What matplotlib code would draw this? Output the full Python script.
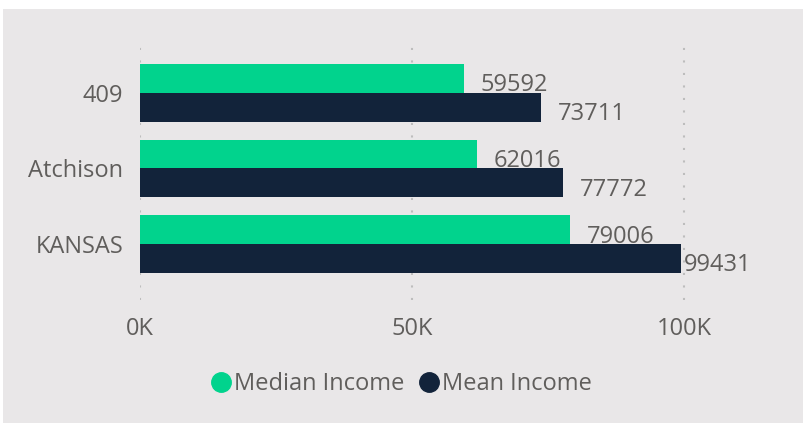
import matplotlib.pyplot as plt
import numpy as np
from matplotlib.patches import Rectangle
from matplotlib.lines import Line2D

plt.rcParams['font.family'] = ['Open Sans', 'DejaVu Sans']

categories = ["409", "Atchison", "KANSAS"]
median_income = [59592, 62016, 79006]
mean_income = [73711, 77772, 99431]
x_ticks = [0, 50000, 100000]
x_tick_labels = ["0K", "50K", "100K"]

green = "#01D38D"
navy = "#12233A"
text_col = "#605E5C"
bg = "#E9E7E8"

fig = plt.figure(figsize=(8.08, 4.30), dpi=100)
fig.patch.set_facecolor("white")
fig.add_artist(Rectangle((3 / 808, 7 / 430), 800 / 808, 414 / 430,
                         transform=fig.transFigure, facecolor=bg, edgecolor="none", zorder=-10))

ax = fig.add_axes([140 / 808, 1 - 300 / 430, 650 / 808, 260 / 430])
ax.set_facecolor("none")

y = np.arange(len(categories))
h = 0.38
ax.barh(y - h / 2, median_income, height=h, color=green, zorder=2)
ax.barh(y + h / 2, mean_income, height=h, color=navy, zorder=2)

ax.set_xlim(0, 119500)
ax.set_ylim(2.74, -0.7)

for i in range(len(categories)):
    for val, yy in ((median_income[i], y[i] - h / 2), (mean_income[i], y[i] + h / 2)):
        off = 12 if val < 95000 else 2
        ax.annotate(str(val), (val, yy), xytext=(off, -5), textcoords="offset points",
                    ha="left", va="center", fontsize=17, color=text_col, zorder=3)

ax.set_xticks(x_ticks)
ax.set_xticklabels(x_tick_labels)
ax.set_yticks(y)
ax.set_yticklabels(categories)
ax.tick_params(axis="both", length=0, labelsize=17, labelcolor=text_col)
ax.tick_params(axis="y", pad=12)
ax.tick_params(axis="x", pad=12)
ax.grid(axis="x", color="#BDBDBD", linestyle=(0, (1, 5)), linewidth=1.5, zorder=1)
for s in ax.spines.values():
    s.set_visible(False)

handles = [Line2D([], [], marker="o", linestyle="none", markersize=14, color=green),
           Line2D([], [], marker="o", linestyle="none", markersize=14, color=navy)]
fig.legend(handles, ["Median Income", "Mean Income"], loc="center", bbox_to_anchor=(400 / 808, 1 - 384 / 430),
           ncol=2, frameon=False, fontsize=17, labelcolor=text_col, handletextpad=0.0,
           columnspacing=0.5, handlelength=1.1)

fig.savefig("out.png", dpi=100, facecolor="white")
